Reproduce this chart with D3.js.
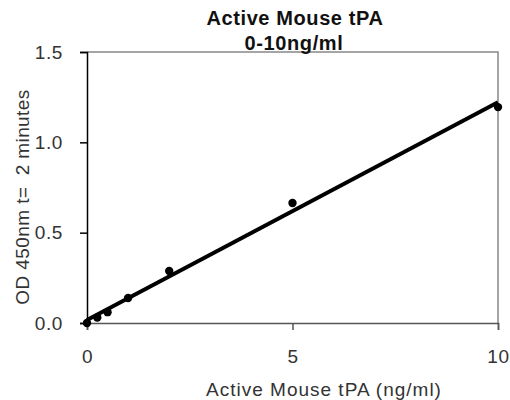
<!DOCTYPE html>
<html>
<head>
<meta charset="utf-8">
<script src="https://cdn.jsdelivr.net/npm/d3@7"></script>
<style>
  body { margin: 0; background: #fff; }
  text { font-family: "Liberation Sans", Arial, sans-serif; }
</style>
</head>
<body>
<svg id="chart" width="510" height="400"></svg>
<script>
const concentration = [0, 0.25, 0.5, 1, 2, 5, 10];
const od450 = [0, 0.03, 0.06, 0.138, 0.288, 0.664, 1.195];
const xTicks = [0, 5, 10];
const yTicks = [0, 0.5, 1.0, 1.5];

const MARGIN = { left: 87, right: 12, top: 52, bottom: 77 };
const WIDTH = 510 - MARGIN.left - MARGIN.right;
const HEIGHT = 400 - MARGIN.top - MARGIN.bottom;

const svg = d3.select("#chart");
const g = svg.append("g").attr("transform", `translate(${MARGIN.left},${MARGIN.top})`);

const x = d3.scaleLinear().domain([0, 10]).range([0, WIDTH]);
const y = d3.scaleLinear().domain([0, 1.5]).range([HEIGHT, 0]);

// plot frame (top and right)
g.append("path")
  .attr("d", `M0,0H${WIDTH}V${HEIGHT}`)
  .attr("fill", "none")
  .attr("stroke", "#888")
  .attr("stroke-width", 1.5);

const yAxis = g.append("g")
  .call(d3.axisLeft(y).tickValues(yTicks).tickFormat(d3.format(".1f")).tickSize(7).tickPadding(17));
yAxis.select(".domain").attr("stroke", "#000").attr("stroke-width", 1.5);
yAxis.selectAll(".tick line").attr("stroke", "#000").attr("stroke-width", 1.5);

const xAxis = g.append("g")
  .attr("transform", `translate(0,${HEIGHT})`)
  .call(d3.axisBottom(x).tickValues(xTicks).tickSize(7).tickPadding(20));
xAxis.select(".domain").attr("stroke", "#555").attr("stroke-width", 1.5);
xAxis.selectAll(".tick line").attr("stroke", "#555").attr("stroke-width", 1.5);

svg.selectAll(".tick text")
  .attr("font-size", 19)
  .attr("letter-spacing", 0.6)
  .attr("fill", "#333")
  .style("font-family", "'Liberation Sans', Arial, sans-serif");

// least squares trendline
const mx = d3.mean(concentration), my = d3.mean(od450);
const slope = d3.sum(concentration, (c, i) => (c - mx) * (od450[i] - my)) /
  d3.sum(concentration, c => (c - mx) ** 2);
const intercept = my - slope * mx;

g.append("line")
  .attr("x1", x(0)).attr("y1", y(intercept))
  .attr("x2", x(10)).attr("y2", y(intercept + slope * 10))
  .attr("stroke", "#000")
  .attr("stroke-width", 4);

g.selectAll("circle")
  .data(concentration)
  .enter()
  .append("circle")
  .attr("cx", d => x(d))
  .attr("cy", (d, i) => y(od450[i]))
  .attr("r", 4.2)
  .attr("fill", "#000");

// titles
svg.append("text")
  .attr("x", 295).attr("y", 25)
  .attr("text-anchor", "middle").attr("font-size", 20).attr("font-weight", "bold")
  .attr("letter-spacing", 0.6).attr("fill", "#111")
  .text("Active Mouse tPA");
svg.append("text")
  .attr("x", 294).attr("y", 50)
  .attr("text-anchor", "middle").attr("font-size", 20).attr("font-weight", "bold")
  .attr("letter-spacing", 0.6).attr("fill", "#111")
  .text("0-10ng/ml");

svg.append("text")
  .attr("x", 324).attr("y", 396)
  .attr("text-anchor", "middle").attr("font-size", 19).attr("fill", "#333")
  .attr("letter-spacing", 1)
  .text("Active Mouse tPA (ng/ml)");

svg.append("text")
  .attr("transform", `translate(29,197) rotate(-90)`)
  .attr("text-anchor", "middle").attr("font-size", 19).attr("fill", "#333")
  .attr("letter-spacing", 0.4)
  .style("white-space", "pre")
  .text("OD 450nm t=  2 minutes");
</script>
</body>
</html>
